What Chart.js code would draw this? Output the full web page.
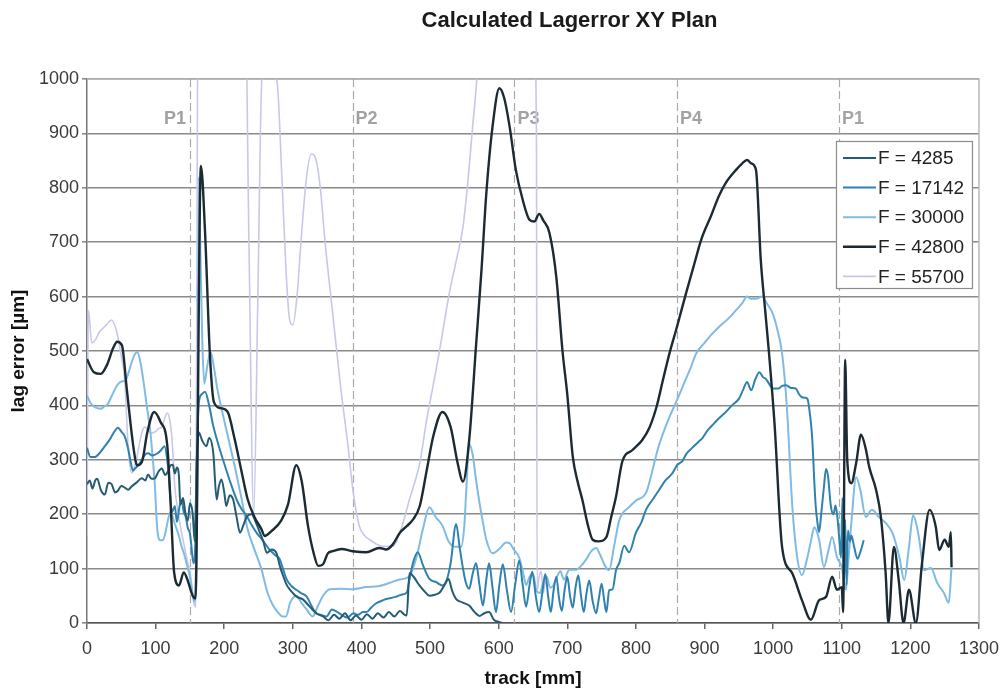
<!DOCTYPE html>
<html><head><meta charset="utf-8">
<script src="https://cdn.jsdelivr.net/npm/chart.js@4/dist/chart.umd.min.js"></script>
<style>html,body{margin:0;padding:0;background:#fff}#wrap{width:1008px;height:693px}</style>
</head><body><div id="wrap"><canvas id="c" width="1008" height="693"></canvas></div>
<script>
const chartTitle = 'Calculated Lagerror XY Plan';
const xTitle = 'track [mm]';
const yTitle = 'lag error [µm]';
const seriesLabels = ['F = 4285', 'F = 17142', 'F = 30000', 'F = 42800', 'F = 55700'];
const markerX = [150, 387, 623, 860, 1096];
const markerLabels = ['P1', 'P2', 'P3', 'P4', 'P1'];
const xTicks = {min: 0, max: 1300, step: 100};
const yTicks = {min: 0, max: 1000, step: 100};

const f4285 = [[0,255],[4,262],[8,247],[12,262],[15,265],[20,245],[26,236],[31,258],[36,255],[41,240],[45,243],[50,252],[55,249],[60,245],[65,251],[72,258],[80,266],[85,262],[89,273],[94,265],[99,266],[104,278],[109,284],[114,272],[118,279],[122,290],[125,291],[128,275],[131,286],[134,270],[136,218],[140,230],[143,205],[147,188],[150,220],[154,201],[157,150],[160,300],[163,350],[168,335],[174,325],[178,340],[184,313],[189,227],[192,250],[196,264],[200,240],[203,215],[208,235],[213,227],[218,195],[223,166],[228,180],[233,196],[240,200],[246,185],[252,166],[257,150],[262,129],[269,135],[276,129],[281,105],[286,86],[291,70],[296,61],[305,49],[315,43],[324,31],[334,18],[344,12],[352,5],[360,15],[368,8],[376,18],[384,5],[392,14],[400,6],[408,16],[416,8],[424,18],[432,10],[440,20],[448,12],[456,22],[462,16],[466,14],[470,92],[476,85],[484,70],[492,58],[499,50],[507,52],[514,56],[521,70],[527,81],[532,60],[538,44],[547,38],[557,32],[565,20],[572,13],[579,18],[586,20],[593,6],[600,2],[606,0]];

const f17142 = [[0,322],[5,305],[11,305],[18,312],[26,325],[34,339],[40,352],[45,359],[50,352],[55,343],[60,320],[63,300],[67,280],[70,284],[75,290],[80,300],[85,310],[89,312],[95,308],[103,312],[108,318],[113,325],[118,288],[124,204],[128,215],[131,186],[135,215],[138,225],[141,204],[144,195],[147,174],[150,165],[152,143],[155,110],[158,150],[160,300],[163,405],[167,420],[172,425],[178,400],[184,362],[191,330],[198,301],[208,262],[218,227],[225,210],[233,196],[240,180],[247,166],[256,152],[266,135],[274,125],[281,117],[286,98],[291,80],[298,68],[305,61],[312,55],[320,49],[327,32],[334,18],[341,15],[349,12],[357,25],[365,20],[372,14],[380,10],[388,18],[395,15],[402,20],[407,20],[414,28],[420,35],[428,40],[436,44],[443,46],[450,48],[458,52],[466,56],[470,80],[475,110],[482,130],[490,105],[499,81],[509,75],[518,69],[524,78],[530,110],[538,182],[543,140],[548,100],[552,75],[557,63],[562,90],[567,110],[572,70],[577,32],[582,80],[586,110],[591,65],[596,20],[601,70],[606,108],[612,60],[618,20],[624,70],[630,115],[635,70],[640,30],[645,70],[649,94],[654,50],[659,20],[664,60],[668,90],[672,50],[676,20],[680,60],[684,85],[688,45],[692,22],[696,60],[700,85],[704,50],[708,28],[712,65],[716,88],[720,50],[724,20],[728,55],[732,78],[737,40],[742,18],[746,45],[750,72],[754,40],[757,20],[761,60],[766,62],[771,97],[776,111],[783,142],[790,130],[800,166],[808,185],[815,209],[825,228],[834,245],[843,262],[853,275],[860,290],[868,298],[873,310],[882,322],[892,334],[897,340],[905,355],[911,363],[920,375],[931,388],[940,400],[950,412],[956,428],[962,443],[968,428],[974,448],[980,461],[985,452],[989,449],[994,440],[999,431],[1008,431],[1013,436],[1019,437],[1026,432],[1033,431],[1038,420],[1042,415],[1047,414],[1050,412],[1054,380],[1057,339],[1060,260],[1062,216],[1065,180],[1067,167],[1070,200],[1074,250],[1077,283],[1080,270],[1084,216],[1088,200],[1091,216],[1094,190],[1096,161],[1099,120],[1101,230],[1103,60],[1105,190],[1107,70],[1109,170],[1112,150],[1114,161],[1118,140],[1123,118],[1127,130],[1132,152]];

const f30000 = [[0,418],[5,405],[10,398],[15,395],[20,394],[25,398],[30,402],[37,420],[44,437],[50,444],[56,446],[60,458],[64,475],[69,492],[73,498],[77,485],[82,447],[87,400],[92,355],[96,300],[99,251],[101,200],[103,165],[107,152],[111,153],[115,170],[118,189],[122,205],[126,190],[130,175],[134,160],[138,140],[142,125],[146,105],[150,85],[153,60],[156,40],[159,60],[161,300],[163,820],[165,700],[168,520],[171,440],[175,470],[180,498],[185,470],[190,430],[195,400],[205,345],[215,290],[225,230],[234,173],[244,135],[254,100],[263,56],[270,35],[278,20],[285,12],[290,12],[296,37],[305,50],[312,38],[320,25],[329,12],[336,30],[344,50],[354,62],[370,63],[387,62],[407,66],[426,68],[446,76],[456,80],[470,86],[480,120],[490,175],[499,213],[508,195],[518,179],[527,150],[538,140],[545,140],[550,180],[553,250],[557,329],[562,310],[567,263],[572,221],[577,185],[582,153],[591,128],[600,135],[611,148],[616,147],[622,135],[630,120],[636,90],[640,70],[645,85],[650,90],[655,60],[660,55],[665,75],[670,85],[675,65],[680,70],[685,85],[690,95],[695,80],[703,98],[713,98],[720,105],[728,118],[735,132],[742,138],[748,125],[755,105],[761,97],[768,140],[776,190],[790,213],[800,225],[815,240],[824,280],[832,320],[840,350],[849,379],[860,410],[870,440],[880,470],[888,496],[900,515],[910,530],[921,544],[935,560],[946,575],[955,588],[962,600],[968,596],[975,596],[984,600],[992,585],[999,570],[1006,540],[1013,496],[1020,397],[1028,213],[1035,121],[1042,88],[1050,121],[1055,150],[1060,176],[1067,153],[1074,103],[1080,130],[1086,158],[1093,121],[1100,103],[1106,61],[1110,120],[1114,184],[1121,268],[1127,245],[1135,195],[1144,208],[1154,195],[1164,184],[1174,165],[1184,121],[1191,79],[1198,140],[1204,198],[1209,180],[1213,153],[1220,97],[1230,101],[1239,74],[1249,55],[1256,37],[1260,103]];

const f42800 = [[0,485],[10,461],[20,458],[29,474],[38,505],[44,517],[51,510],[58,430],[68,320],[73,290],[80,296],[88,351],[98,388],[107,370],[117,326],[122,216],[127,93],[134,69],[141,93],[146,81],[154,50],[158,45],[166,840],[172,720],[179,496],[185,406],[195,395],[205,388],[215,339],[225,280],[234,228],[244,195],[254,173],[259,160],[268,168],[283,188],[293,218],[305,290],[313,260],[322,179],[330,130],[337,105],[344,108],[351,128],[358,132],[371,136],[387,132],[407,130],[426,138],[436,135],[446,145],[456,166],[466,178],[475,190],[485,215],[495,280],[505,345],[518,388],[530,360],[540,295],[548,260],[557,336],[567,510],[575,650],[582,790],[591,912],[601,983],[608,965],[616,912],[625,833],[635,778],[645,741],[652,738],[659,752],[665,740],[674,717],[684,636],[693,500],[700,420],[708,306],[715,260],[722,226],[730,180],[737,153],[745,150],[757,158],[764,195],[771,232],[780,296],[795,318],[809,336],[820,360],[830,397],[840,450],[849,496],[860,545],[873,606],[884,655],[895,704],[910,750],[921,785],[931,809],[946,833],[955,845],[962,851],[968,845],[975,833],[982,667],[988,580],[994,496],[1002,367],[1013,140],[1028,91],[1042,42],[1055,6],[1067,42],[1077,48],[1086,85],[1093,61],[1100,66],[1102,20],[1105,484],[1108,300],[1114,257],[1121,294],[1128,346],[1135,320],[1140,287],[1150,245],[1157,195],[1164,91],[1168,0],[1176,140],[1183,79],[1190,0],[1198,61],[1208,0],[1217,110],[1228,208],[1237,177],[1242,134],[1250,153],[1256,140],[1259,167],[1260,103]];

const f55700 = [[0,160],[2,575],[7,515],[12,520],[18,535],[26,545],[31,552],[36,557],[41,545],[45,526],[50,490],[55,447],[60,324],[65,276],[70,290],[75,320],[80,350],[84,360],[89,355],[94,349],[100,352],[105,358],[109,360],[113,375],[117,386],[121,370],[124,336],[128,250],[133,202],[138,165],[142,140],[147,110],[150,95],[153,66],[156,35],[158,30],[160,600],[162,1200],[230,1200],[236,700],[243,200],[249,600],[255,1000],[262,1008],[270,1012],[277,995],[284,820],[290,650],[295,560],[300,548],[306,600],[313,720],[320,820],[327,862],[333,855],[340,800],[347,700],[358,570],[370,430],[380,330],[388,240],[397,178],[405,160],[412,153],[422,145],[431,141],[446,141],[456,166],[463,195],[470,227],[478,260],[485,294],[495,373],[505,440],[514,502],[521,555],[528,606],[538,665],[548,728],[555,810],[562,912],[568,998],[575,1150],[650,1150],[655,900],[656,60],[659,85],[662,95],[665,55],[668,75],[671,70]];

const seriesData = [f4285, f17142, f30000, f42800, f55700];
const seriesColors = ['#245c74', '#2f82b0', '#7fbbe3', '#1b2a33', '#c7c8e8'];
const seriesWidths = [2, 2, 2, 2.4, 1.6];
const seriesOrder = [2, 3, 4, 1, 5];

const FONT = '"Liberation Sans", Arial, Helvetica, sans-serif';

const decor = {
  id: 'decor',
  beforeDatasetsDraw(chart) {
    const {ctx, chartArea: a, scales: {x}} = chart;
    ctx.save();
    ctx.strokeStyle = '#b8b8b8'; ctx.lineWidth = 1.5;
    ctx.beginPath(); ctx.moveTo(a.left, a.top); ctx.lineTo(a.right, a.top); ctx.lineTo(a.right, a.bottom); ctx.stroke();
    ctx.setLineDash([8, 4]); ctx.strokeStyle = '#a9a9a9'; ctx.lineWidth = 1.2;
    markerX.forEach(v => {
      const px = Math.round(x.getPixelForValue(v)) + 0.5;
      ctx.beginPath(); ctx.moveTo(px, a.top); ctx.lineTo(px, a.bottom); ctx.stroke();
    });
    ctx.setLineDash([]);
    ctx.fillStyle = '#a2a2a2'; ctx.font = 'bold 18px ' + FONT; ctx.textBaseline = 'middle';
    markerLabels.forEach((t, i) => {
      const px = x.getPixelForValue(markerX[i]);
      ctx.textAlign = i === 0 ? 'right' : 'left';
      ctx.fillText(t, i === 0 ? px - 4 : px + 3, a.top + 40);
    });
    ctx.restore();
  },
  afterDatasetsDraw(chart) {
    const {ctx, chartArea: a} = chart;
    ctx.save();
    const bx = a.right - 143, by = a.top + 62, bw = 136, bh = 147;
    ctx.fillStyle = '#fff'; ctx.fillRect(bx, by, bw, bh);
    ctx.strokeStyle = '#8c8c8c'; ctx.lineWidth = 1.2; ctx.strokeRect(bx + 0.5, by + 0.5, bw, bh);
    ctx.font = '19px ' + FONT; ctx.textBaseline = 'middle'; ctx.textAlign = 'left';
    chart.data.datasets.forEach((ds, i) => {
      const y = by + 17 + i * 29.6;
      ctx.strokeStyle = ds.borderColor; ctx.lineWidth = ds.borderWidth;
      ctx.beginPath(); ctx.moveTo(bx + 7, y); ctx.lineTo(bx + 40, y); ctx.stroke();
      ctx.fillStyle = '#222'; ctx.fillText(ds.label, bx + 42, y + 1);
    });
    ctx.restore();
  },
  afterDraw(chart) {
    const {ctx, chartArea: a} = chart;
    ctx.save();
    ctx.fillStyle = '#1a1a1a'; ctx.font = 'bold 22px ' + FONT;
    ctx.textAlign = 'center'; ctx.textBaseline = 'middle';
    ctx.fillText(chartTitle, a.left + 0.541 * (a.right - a.left), 21);
    ctx.restore();
  }
};

new Chart(document.getElementById('c'), {
  type: 'line',
  data: {
    datasets: seriesData.map((d, i) => ({
      label: seriesLabels[i],
      data: d.map(p => ({x: p[0], y: p[1]})),
      borderColor: seriesColors[i],
      backgroundColor: seriesColors[i],
      borderWidth: seriesWidths[i],
      pointRadius: 0,
      fill: false,
      cubicInterpolationMode: 'monotone',
      order: seriesOrder[i]
    }))
  },
  options: {
    responsive: false,
    animation: false,
    devicePixelRatio: 1,
    layout: {padding: {top: 79, right: 28, bottom: 0, left: 0}},
    plugins: {legend: {display: false}, title: {display: false}, tooltip: {enabled: false}},
    scales: {
      x: {
        type: 'linear', min: xTicks.min, max: xTicks.max,
        afterFit: s => { s.height = 70; },
        ticks: {stepSize: xTicks.step, color: '#3a3a3a', font: {size: 18, family: FONT}, padding: 9, maxRotation: 0, callback: v => String(v)},
        grid: {drawOnChartArea: false, drawTicks: true, tickLength: 6, color: '#666', lineWidth: 1.5},
        border: {display: true, color: '#555', width: 1.5},
        title: {display: true, text: xTitle, color: '#111', font: {size: 19, weight: 'bold', family: FONT}, padding: {top: 0, bottom: 3}}
      },
      y: {
        min: yTicks.min, max: yTicks.max,
        afterFit: s => { s.width = 87; },
        ticks: {stepSize: yTicks.step, color: '#3a3a3a', font: {size: 18, family: FONT}, padding: 3, callback: v => String(v)},
        grid: {color: '#8a8a8a', lineWidth: 1.6, drawTicks: true, tickLength: 5},
        border: {display: true, color: '#777', width: 1.5},
        title: {display: true, text: yTitle, color: '#111', font: {size: 19, weight: 'bold', family: FONT}, padding: {top: 7, bottom: 0}}
      }
    }
  },
  plugins: [decor]
});
</script></body></html>
